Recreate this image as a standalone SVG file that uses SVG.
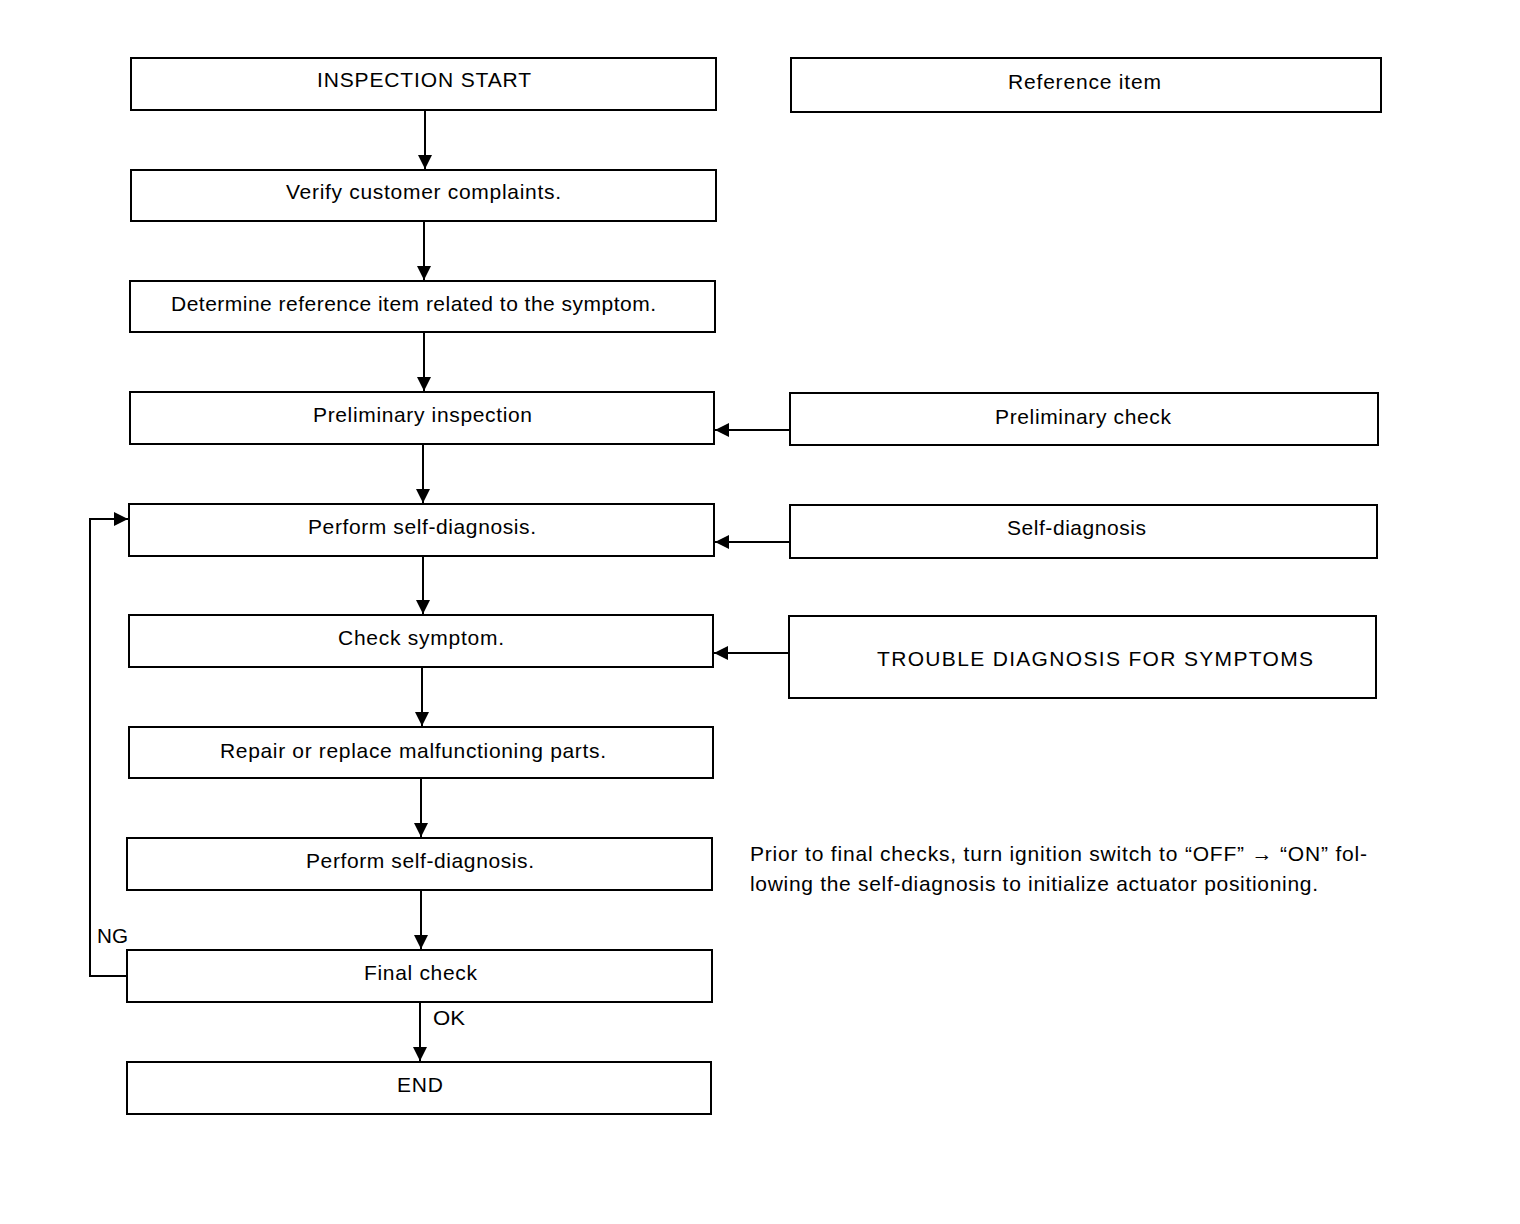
<svg xmlns="http://www.w3.org/2000/svg" width="1520" height="1224" viewBox="0 0 1520 1224">
<style>
.box{fill:#fff;stroke:#000;stroke-width:2}
.t{font-family:"Liberation Sans",Arial,sans-serif;font-size:21px;fill:#000}
.n{font-family:"Liberation Sans",Arial,sans-serif;font-size:21px;fill:#000}
.c{fill:none;stroke:#000;stroke-width:2}
</style>
<defs>
<marker id="ah" viewBox="0 0 10 10" refX="10" refY="5" markerWidth="14" markerHeight="14" markerUnits="userSpaceOnUse" orient="auto">
<path d="M0,0 L10,5 L0,10 z" fill="#000"/>
</marker>
</defs>
<rect width="1520" height="1224" fill="#fff"/>
<g id="connectors">
<line class="c" x1="425" y1="110" x2="425" y2="169" marker-end="url(#ah)"/>
<line class="c" x1="424" y1="221" x2="424" y2="280" marker-end="url(#ah)"/>
<line class="c" x1="424" y1="332" x2="424" y2="391" marker-end="url(#ah)"/>
<line class="c" x1="423" y1="444" x2="423" y2="503" marker-end="url(#ah)"/>
<line class="c" x1="423" y1="556" x2="423" y2="614" marker-end="url(#ah)"/>
<line class="c" x1="422" y1="667" x2="422" y2="726" marker-end="url(#ah)"/>
<line class="c" x1="421" y1="778" x2="421" y2="837" marker-end="url(#ah)"/>
<line class="c" x1="421" y1="890" x2="421" y2="949" marker-end="url(#ah)"/>
<line class="c" x1="420" y1="1002" x2="420" y2="1061" marker-end="url(#ah)"/>
<line class="c" x1="790" y1="430" x2="715" y2="430" marker-end="url(#ah)"/>
<line class="c" x1="790" y1="542" x2="715" y2="542" marker-end="url(#ah)"/>
<line class="c" x1="789" y1="653" x2="714" y2="653" marker-end="url(#ah)"/>
<polyline class="c" points="127,976 90,976 90,519 128,519" marker-end="url(#ah)"/>
<text class="n" x="97" y="943" textLength="31" lengthAdjust="spacingAndGlyphs">NG</text>
<text class="n" x="433" y="1025" textLength="32" lengthAdjust="spacingAndGlyphs">OK</text>
</g>
<g id="n1"><rect class="box" x="131" y="58" width="585" height="52"/><text class="t" x="317" y="87" textLength="214" lengthAdjust="spacing">INSPECTION START</text></g>
<g id="n2"><rect class="box" x="131" y="170" width="585" height="51"/><text class="t" x="286" y="199" textLength="275" lengthAdjust="spacing">Verify customer complaints.</text></g>
<g id="n3"><rect class="box" x="130" y="281" width="585" height="51"/><text class="t" x="171" y="311" textLength="485" lengthAdjust="spacing">Determine reference item related to the symptom.</text></g>
<g id="n4"><rect class="box" x="130" y="392" width="584" height="52"/><text class="t" x="313" y="422" textLength="219" lengthAdjust="spacing">Preliminary inspection</text></g>
<g id="n5"><rect class="box" x="129" y="504" width="585" height="52"/><text class="t" x="308" y="534" textLength="228" lengthAdjust="spacing">Perform self-diagnosis.</text></g>
<g id="n6"><rect class="box" x="129" y="615" width="584" height="52"/><text class="t" x="338" y="645" textLength="166" lengthAdjust="spacing">Check symptom.</text></g>
<g id="n7"><rect class="box" x="129" y="727" width="584" height="51"/><text class="t" x="220" y="758" textLength="386" lengthAdjust="spacing">Repair or replace malfunctioning parts.</text></g>
<g id="n8"><rect class="box" x="127" y="838" width="585" height="52"/><text class="t" x="306" y="868" textLength="228" lengthAdjust="spacing">Perform self-diagnosis.</text></g>
<g id="n9"><rect class="box" x="127" y="950" width="585" height="52"/><text class="t" x="364" y="980" textLength="113" lengthAdjust="spacing">Final check</text></g>
<g id="n10"><rect class="box" x="127" y="1062" width="584" height="52"/><text class="t" x="397" y="1092" textLength="46" lengthAdjust="spacing">END</text></g>
<g id="r1"><rect class="box" x="791" y="58" width="590" height="54"/><text class="t" x="1008" y="89" textLength="153" lengthAdjust="spacing">Reference item</text></g>
<g id="r2"><rect class="box" x="790" y="393" width="588" height="52"/><text class="t" x="995" y="424" textLength="176" lengthAdjust="spacing">Preliminary check</text></g>
<g id="r3"><rect class="box" x="790" y="505" width="587" height="53"/><text class="t" x="1007" y="535" textLength="139" lengthAdjust="spacing">Self-diagnosis</text></g>
<g id="r4"><rect class="box" x="789" y="616" width="587" height="82"/><text class="t" x="877" y="666" textLength="436" lengthAdjust="spacing">TROUBLE DIAGNOSIS FOR SYMPTOMS</text></g>
<g id="note">
<text class="n" x="750" y="861" textLength="617" lengthAdjust="spacing">Prior to final checks, turn ignition switch to “OFF” → “ON” fol-</text>
<text class="n" x="750" y="891" textLength="568" lengthAdjust="spacing">lowing the self-diagnosis to initialize actuator positioning.</text>
</g>
</svg>
